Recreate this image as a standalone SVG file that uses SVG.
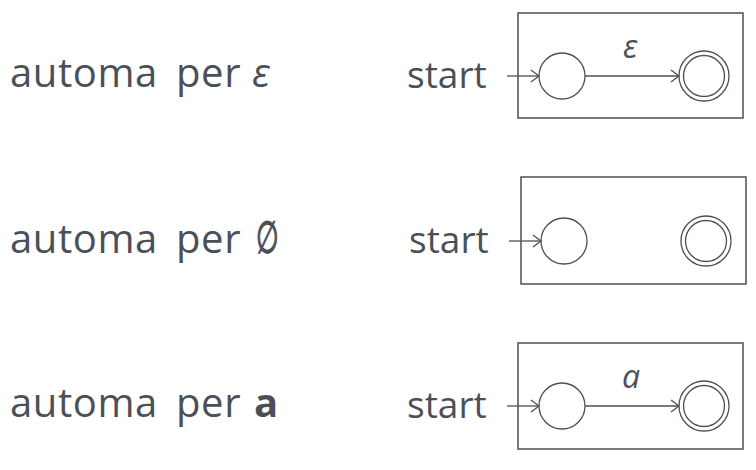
<svg xmlns="http://www.w3.org/2000/svg" width="756" height="470" viewBox="0 0 756 470">
<style>
text{font-family:"Open Sans","DejaVu Sans",sans-serif;fill:#4b5058}
.lbl{font-size:40px;letter-spacing:0.6px}
.st{font-size:37px}
.box{fill:none;stroke:#4b5058;stroke-width:1.5}
.state{fill:#fff;stroke:#4b5058;stroke-width:1.3}
.edge{fill:none;stroke:#4b5058;stroke-width:1.3}
.math{font-style:italic;font-size:32px}
</style>
<defs>
<marker id="arr" markerWidth="12" markerHeight="14" refX="10" refY="7" orient="auto" markerUnits="userSpaceOnUse">
<polyline points="2,1 10,7 2,13" fill="none" stroke="#4b5058" stroke-width="1.3"/>
</marker>
</defs>
<g id="labels">
<text class="lbl" y="87"><tspan x="10">automa</tspan><tspan x="176">per</tspan><tspan x="252" font-style="italic">ε</tspan></text>
<text class="lbl" y="253"><tspan x="10">automa</tspan><tspan x="176">per</tspan></text>
<text class="lbl" transform="translate(256,253) scale(0.65,1.12)" font-family="DejaVu Sans" stroke="#4b5058" stroke-width="1.2">∅</text>
<text class="lbl" y="417"><tspan x="10">automa</tspan><tspan x="176">per</tspan><tspan x="254" font-weight="bold">a</tspan></text>
</g>
<g id="box1"><rect class="box" x="518" y="13" width="225" height="105"/></g>
<g id="box2"><rect class="box" x="521" y="177" width="225" height="107"/></g>
<g id="box3"><rect class="box" x="518" y="343" width="225" height="106"/></g>
<g id="q0a"><circle class="state" cx="562" cy="76" r="23"/><text class="st" x="407" y="88">start</text></g>
<g id="q1a"><circle class="state" cx="704" cy="76" r="25"/><circle class="state" cx="704" cy="76" r="20.5"/></g>
<g id="q0b"><circle class="state" cx="564" cy="241" r="23"/><text class="st" x="409" y="253">start</text></g>
<g id="q1b"><circle class="state" cx="706" cy="241" r="25"/><circle class="state" cx="706" cy="241" r="20.5"/></g>
<g id="q0c"><circle class="state" cx="562" cy="406" r="23"/><text class="st" x="407" y="418">start</text></g>
<g id="q1c"><circle class="state" cx="704" cy="406" r="25"/><circle class="state" cx="704" cy="406" r="20.5"/></g>
<g id="connectors">
<line class="edge" x1="507" y1="76" x2="539" y2="76" marker-end="url(#arr)"/>
<line class="edge" x1="585" y1="76" x2="679" y2="76" marker-end="url(#arr)"/>
<text class="math" x="623" y="58">ε</text>
<line class="edge" x1="509" y1="241" x2="541" y2="241" marker-end="url(#arr)"/>
<line class="edge" x1="507" y1="406" x2="539" y2="406" marker-end="url(#arr)"/>
<line class="edge" x1="585" y1="406" x2="679" y2="406" marker-end="url(#arr)"/>
<text class="math" x="622" y="388" font-size="35">a</text>
</g>
</svg>
